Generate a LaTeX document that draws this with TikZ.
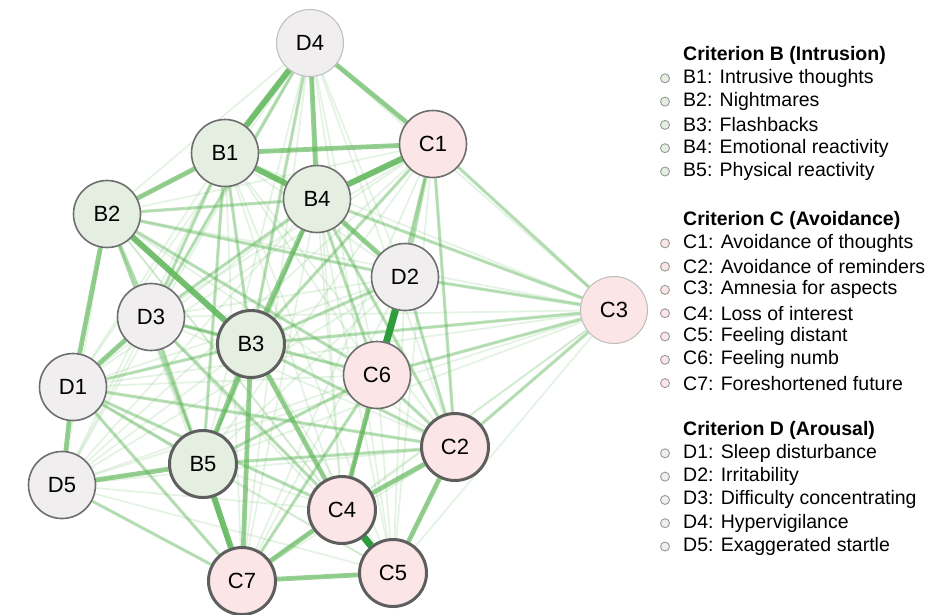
\documentclass[tikz,border=0pt]{standalone}
\usepackage{fontspec}
\setmainfont{Liberation Sans}
\usetikzlibrary{backgrounds}
\definecolor{bfill}{HTML}{E4EFE2}
\definecolor{cfill}{HTML}{FBE5E6}
\definecolor{dfill}{HTML}{F0EEEF}
\definecolor{ringdark}{HTML}{5E5E5E}
\definecolor{ringmid}{HTML}{6E6E6E}
\definecolor{ringlight}{HTML}{BDBDBD}
\definecolor{tiegreen}{HTML}{5DB557}
\definecolor{tietopgreen}{HTML}{2E9B3C}
\tikzset{
  symbox/.style={
    circle,
    draw=ringmid,
    line width=1.6pt,
    minimum size=67pt,
    inner sep=0pt,
    font=\fontsize{22}{26}\selectfont
  },
  keysym/.style={symbox, draw=ringdark, line width=3pt},
  palesym/.style={symbox, draw=ringlight, line width=1pt},
  tiefaint/.style={draw=tiegreen, line width=1.8pt, opacity=0.16},
  tielight/.style={draw=tiegreen, line width=3.2pt, opacity=0.38},
  tiemid/.style={draw=tiegreen, line width=4.8pt, opacity=0.65},
  tiestrong/.style={draw=tiegreen, line width=6pt, opacity=0.85},
  tietop/.style={draw=tietopgreen, line width=7pt},
  keydot/.style={circle, draw=ringmid!70, line width=0.9pt, minimum size=9pt, inner sep=0pt},
  keytext/.style={anchor=west, inner sep=0pt, font=\fontsize{19.5}{23}\selectfont},
  keyhead/.style={keytext, font=\fontsize{19.5}{23}\selectfont\bfseries}
}
\begin{document}
\begin{tikzpicture}[x=1pt,y=-1pt]
\useasboundingbox (0,0) rectangle (949,614);
% symptoms
\node[palesym, fill=dfill] (D4) at (310,43) {D4};
\node[symbox, fill=bfill] (B1) at (225,153) {B1};
\node[symbox, fill=cfill] (C1) at (433,144) {C1};
\node[symbox, fill=bfill] (B4) at (317,199) {B4};
\node[symbox, fill=bfill] (B2) at (107,214) {B2};
\node[symbox, fill=dfill] (D2) at (405,277) {D2};
\node[symbox, fill=dfill] (D3) at (151,317) {D3};
\node[keysym, fill=bfill] (B3) at (251,344) {B3};
\node[palesym, fill=cfill] (C3) at (614,310) {C3};
\node[symbox, fill=cfill] (C6) at (377,375) {C6};
\node[symbox, fill=dfill] (D1) at (73,387) {D1};
\node[keysym, fill=cfill] (C2) at (455,447) {C2};
\node[keysym, fill=bfill] (B5) at (203,464) {B5};
\node[symbox, fill=dfill] (D5) at (62,485) {D5};
\node[keysym, fill=cfill] (C4) at (342,510) {C4};
\node[keysym, fill=cfill] (C5) at (393,573) {C5};
\node[keysym, fill=cfill] (C7) at (242,581) {C7};
% ties
\begin{scope}[on background layer]
\foreach \a [count=\i] in {B1,B2,B3,B4,B5,C1,C2,C3,C4,C5,C6,C7,D1,D2,D3,D4,D5} {
  \foreach \b [count=\j] in {B1,B2,B3,B4,B5,C1,C2,C3,C4,C5,C6,C7,D1,D2,D3,D4,D5} {
    \ifnum\j>\i \draw[tiefaint] (\a) -- (\b); \fi
  }
}
\foreach \a/\b in {C1/C2, C1/D2, C1/C3, C2/C3, C6/C2, B1/B3, D3/B3, B1/B5, D4/B3,
  D4/D3, B2/C6, B3/C2, B3/D2, D3/C6, D1/B3, D1/C4, D5/C7, D1/C7, B5/C2, B5/C6,
  C6/C7, C3/C6, C3/D2, C3/B3, B2/B5, D3/B5, B4/B5, B4/C6, C1/C6, B1/D3, B4/D3,
  B2/D2, D2/C2, D2/C4, D1/C2, D3/C4, B2/D3, C1/B3, B4/C2, B4/C3, D1/B5, B2/B4}
  \draw[tielight] (\a) -- (\b);
\foreach \a/\b in {D4/C1, D4/B4, B1/C1, B1/B2, B2/D1, D1/D5, B4/D2, B3/B5, B3/C7,
  B3/C4, B5/D5, C4/C2, C4/C7, C7/C5, C6/C4, C2/C5, B4/B3, D1/D3}
  \draw[tiemid] (\a) -- (\b);
\foreach \a/\b in {B1/B4, B2/B3, B5/C7, C1/B4, D4/B1}
  \draw[tiestrong] (\a) -- (\b);
\foreach \a/\b in {C4/C5, D2/C6}
  \draw[tietop] (\a) -- (\b);
\end{scope}
% legend
\node[keyhead] (hB) at (683,55) {Criterion B (Intrusion)};
\foreach \t [count=\k] in {B1: Intrusive thoughts, B2: Nightmares, B3: Flashbacks,
  B4: Emotional reactivity, B5: Physical reactivity} {
  \node[keydot, fill=bfill] (dB\k) at (665,55+23.3*\k) {};
  \node[keytext] (tB\k) at (683,55+23.3*\k) {\t};
}
\node[keyhead] (hC) at (683,220) {Criterion C (Avoidance)};
\foreach \t [count=\k] in {C1: Avoidance of thoughts, C2: Avoidance of reminders,
  C3: Amnesia for aspects, C4: Loss of interest, C5: Feeling distant,
  C6: Feeling numb, C7: Foreshortened future} {
  \node[keydot, fill=cfill] (dC\k) at (665,220+23.3*\k) {};
  \node[keytext] (tC\k) at (683,220+23.3*\k) {\t};
}
\node[keyhead] (hD) at (683,430) {Criterion D (Arousal)};
\foreach \t [count=\k] in {D1: Sleep disturbance, D2: Irritability,
  D3: Difficulty concentrating, D4: Hypervigilance, D5: Exaggerated startle} {
  \node[keydot, fill=dfill] (dD\k) at (665,430+23.3*\k) {};
  \node[keytext] (tD\k) at (683,430+23.3*\k) {\t};
}
\end{tikzpicture}
\end{document}
